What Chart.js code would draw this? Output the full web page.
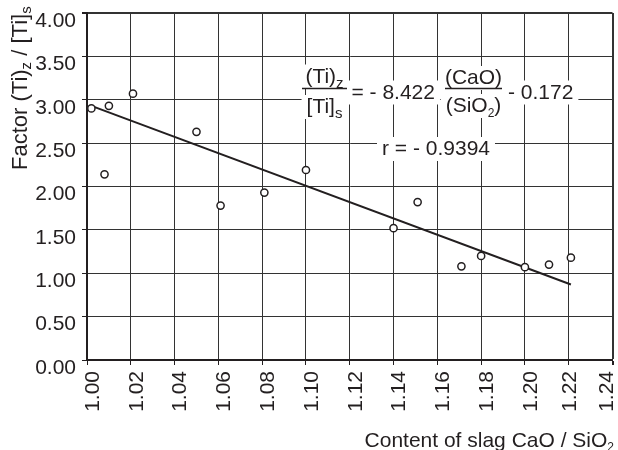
<!DOCTYPE html>
<html>
<head>
<meta charset="utf-8">
<script src="https://cdn.jsdelivr.net/npm/chart.js@4.4.1/dist/chart.umd.min.js"></script>
<style>
  html, body { margin: 0; padding: 0; background: #fff; }
  canvas { display: block; }
</style>
</head>
<body>
<canvas id="grafico" width="618" height="450"></canvas>
<script>
// valores
const ratioCaoSio2 = [1.002, 1.008, 1.010, 1.021, 1.050, 1.061, 1.081, 1.100, 1.140, 1.151, 1.171, 1.180, 1.200, 1.211, 1.221];
const factorTi = [2.90, 2.14, 2.93, 3.07, 2.63, 1.78, 1.93, 2.19, 1.52, 1.82, 1.08, 1.20, 1.07, 1.10, 1.18];
const rectaX = [1.002, 1.221];
const rectaY = [2.93, 0.87];
const ticksX = [1.00, 1.02, 1.04, 1.06, 1.08, 1.10, 1.12, 1.14, 1.16, 1.18, 1.20, 1.22, 1.24];
const ticksY = [0, 0.5, 1, 1.5, 2, 2.5, 3, 3.5, 4];

const familia = '"Liberation Sans", Arial, sans-serif';
const tinta = '#231f20';

Chart.defaults.font.family = familia;
Chart.defaults.font.size = 21;
Chart.defaults.color = tinta;

// pinta varios trozos de texto seguidos: [texto, tamaño, desplazamiento vertical]
function medir(ctx, partes) {
  let w = 0;
  partes.forEach(p => {
    ctx.font = p[1] + 'px ' + familia;
    w += ctx.measureText(p[0]).width;
  });
  return w;
}

function escribir(ctx, x, y, partes) {
  let cx = x;
  ctx.fillStyle = tinta;
  ctx.textBaseline = 'alphabetic';
  ctx.textAlign = 'left';
  partes.forEach(p => {
    ctx.font = p[1] + 'px ' + familia;
    ctx.fillText(p[0], cx, y + p[2]);
    cx += ctx.measureText(p[0]).width;
  });
}

// las dos ultimas etiquetas del eje x van algo mas a la izquierda
const ajusteEtiquetas = {
  id: 'ajusteEtiquetas',
  afterLayout(chart) {
    const items = chart.scales.x.getLabelItems(chart.chartArea);
    const n = items.length;
    if (n > 1) {
      items[n - 1].options.translation[0] -= 11;
      items[n - 2].options.translation[0] -= 5;
    }
  }
};

const textos = {
  id: 'textos',
  afterDraw(chart) {
    const ctx = chart.ctx;
    ctx.save();

    // ecuacion y r, cada trozo con su caja blanca
    const piezas = [
      { partes: [['(Ti)', 21, 0], ['z', 15, 5]], centro: 324.5, y: 82.5 },
      { partes: [['[Ti]', 21, 0], ['s', 15, 5]], centro: 324.5, y: 113 },
      { partes: [['= - 8.422', 21, 0]], x: 351.5, y: 98.5 },
      { partes: [['(CaO)', 21, 0]], centro: 473.5, y: 84 },
      { partes: [['(SiO', 21, 0], ['2', 12, 5], [')', 21, 0]], centro: 473.5, y: 112 },
      { partes: [['- 0.172', 21, 0]], x: 508, y: 98.5 },
      { partes: [['r = - 0.9394', 21, 0]], x: 382, y: 155 }
    ];
    piezas.forEach(p => {
      p.w = medir(ctx, p.partes);
      if (p.x === undefined) p.x = p.centro - p.w / 2;
      ctx.fillStyle = '#fff';
      ctx.fillRect(p.x - 5, p.y - 18, p.w + 10, 24);
    });
    piezas.forEach(p => escribir(ctx, p.x, p.y, p.partes));

    // rayas de fraccion
    ctx.strokeStyle = tinta;
    ctx.lineWidth = 1.5;
    ctx.beginPath();
    ctx.moveTo(302, 88.5); ctx.lineTo(347, 88.5);
    ctx.moveTo(445, 88.5); ctx.lineTo(502, 88.5);
    ctx.stroke();

    // titulo eje x
    const tituloX = [['Content of slag CaO / SiO', 21, 0], ['2', 12, 4]];
    const wx = medir(ctx, tituloX);
    escribir(ctx, 614 - wx, 447, tituloX);

    // titulo eje y (girado)
    ctx.translate(27, 170);
    ctx.rotate(-Math.PI / 2);
    escribir(ctx, 0, 0, [['Factor (Ti)', 22, 0], ['z', 15, 4], [' / [Ti]', 22, 0], ['s', 15, 4]]);

    ctx.restore();
  }
};

const ctx = document.querySelector('#grafico').getContext('2d');

new Chart(ctx, {
  type: 'scatter',
  data: {
    datasets: [
      {
        data: ratioCaoSio2.map((x, i) => ({ x: x, y: factorTi[i] })),
        pointRadius: 3.6,
        pointBorderWidth: 1.5,
        pointBackgroundColor: '#fff',
        pointBorderColor: tinta
      },
      {
        data: rectaX.map((x, i) => ({ x: x, y: rectaY[i] })),
        showLine: true,
        pointRadius: 0,
        borderColor: tinta,
        borderWidth: 2
      }
    ]
  },
  options: {
    responsive: false,
    animation: false,
    layout: { padding: { top: 13, right: 3, bottom: 0, left: 0 } },
    plugins: {
      legend: { display: false },
      tooltip: { enabled: false }
    },
    scales: {
      x: {
        min: 1.00,
        max: 1.24,
        afterBuildTicks: s => { s.ticks = ticksX.map(v => ({ value: v })); },
        afterFit: s => { s.height = 90; s.paddingLeft = 0; s.paddingRight = 0; },
        ticks: {
          autoSkip: false,
          minRotation: 90,
          maxRotation: 90,
          padding: 6,
          labelOffset: 6,
          callback: v => Number(v).toFixed(2)
        },
        grid: {
          color: '#333',
          tickColor: tinta,
          tickLength: 5,
          lineWidth: c => (c.index === ticksX.length - 1 ? 2 : 1)
        },
        border: { color: tinta, width: 2 }
      },
      y: {
        min: 0,
        max: 4,
        afterBuildTicks: s => { s.ticks = ticksY.map(v => ({ value: v })); },
        afterFit: s => { s.width = 87; s.paddingTop = 0; s.paddingBottom = 0; },
        ticks: {
          padding: 6,
          labelOffset: 8,
          callback: v => Number(v).toFixed(2)
        },
        grid: {
          color: '#333',
          tickColor: tinta,
          tickLength: 5,
          lineWidth: c => (c.index === ticksY.length - 1 ? 2 : 1)
        },
        border: { color: tinta, width: 2 }
      }
    }
  },
  plugins: [ajusteEtiquetas, textos]
});
</script>
</body>
</html>
